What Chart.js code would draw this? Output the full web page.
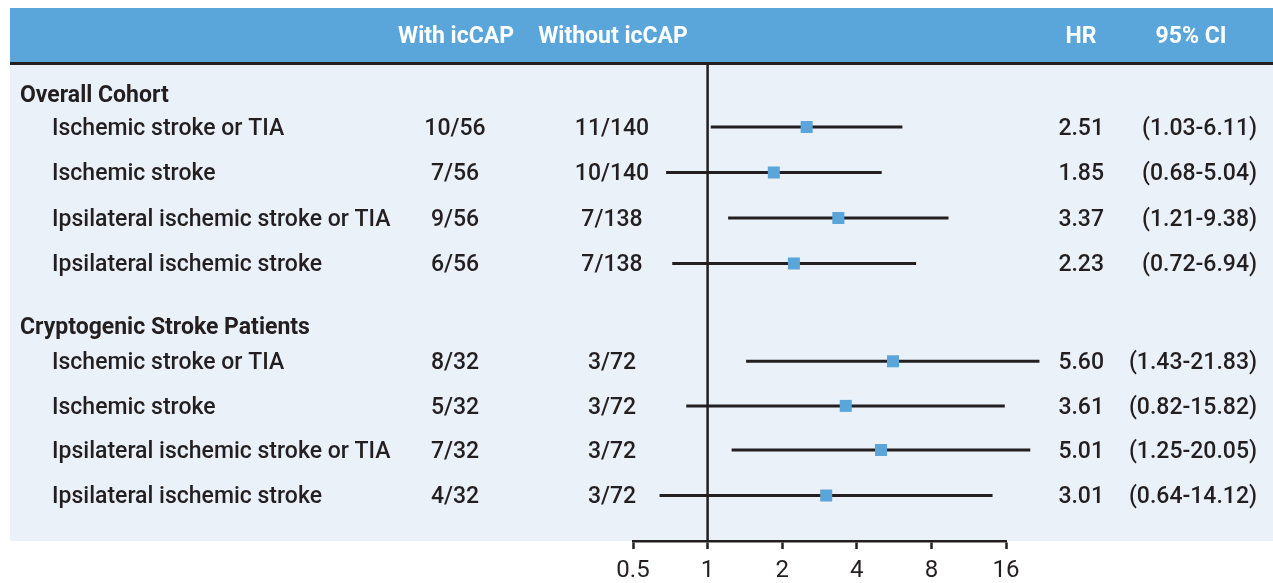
<!DOCTYPE html>
<html>
<head>
<meta charset="utf-8">
<script src="https://cdn.jsdelivr.net/npm/chart.js@4.4.1/dist/chart.umd.min.js"></script>
<style>
  html, body { margin: 0; padding: 0; background: #fff; }
  #wrap { width: 1273px; height: 583px; }
</style>
</head>
<body>
<div id="wrap"><canvas id="forest" width="1273" height="583"></canvas></div>
<script>
// data
const groups = ['Overall Cohort', 'Cryptogenic Stroke Patients'];
const outcomes = ['Ischemic stroke or TIA', 'Ischemic stroke', 'Ipsilateral ischemic stroke or TIA', 'Ipsilateral ischemic stroke'];
const withIcCAP = ['10/56', '7/56', '9/56', '6/56', '8/32', '5/32', '7/32', '4/32'];
const withoutIcCAP = ['11/140', '10/140', '7/138', '7/138', '3/72', '3/72', '3/72', '3/72'];
const hr = [2.51, 1.85, 3.37, 2.23, 5.60, 3.61, 5.01, 3.01];
const ciLow = [1.03, 0.68, 1.21, 0.72, 1.43, 0.82, 1.25, 0.64];
const ciHigh = [6.11, 5.04, 9.38, 6.94, 21.83, 15.82, 20.05, 14.12];
const xTicks = [0.5, 1, 2, 4, 8, 16];

// layout: vertical slots on the hidden y scale
const rowSlots = [1, 2, 3, 4, 6.15, 7.13, 8.1, 9.1];
const groupSlots = [0.28, 5.37];

const FONT = 'Roboto';
const INK = '#231f20';
const BLUE = '#5aa6da';
const PANEL = '#ebf1f9';
const TEXT_NUDGE = 2; // canvas 'middle' sits a bit high for caps

const ciSets = hr.map((v, i) => ({
  type: 'line',
  data: [{ x: ciLow[i], y: rowSlots[i] }, { x: ciHigh[i], y: rowSlots[i] }],
  borderColor: INK,
  borderWidth: 3,
  pointRadius: 0,
  clip: false,
  order: 2
}));

const hrSet = {
  type: 'scatter',
  data: hr.map((v, i) => ({ x: v, y: rowSlots[i] })),
  backgroundColor: BLUE,
  borderWidth: 0,
  pointStyle: 'rect',
  pointRadius: 8.5,
  clip: false,
  order: 1
};

const tablePlugin = {
  id: 'table',
  beforeDraw(chart) {
    const ctx = chart.ctx;
    const W = chart.width;
    ctx.save();
    ctx.fillStyle = '#fff';
    ctx.fillRect(0, 0, W, chart.height);
    ctx.fillStyle = BLUE;
    ctx.fillRect(10, 8, W - 10, 55);
    ctx.fillStyle = PANEL;
    ctx.fillRect(10, 65, W - 10, chart.chartArea.bottom - 65);
    ctx.fillStyle = INK;
    ctx.fillRect(10, 62, W - 10, 3);
    ctx.restore();
  },
  beforeDatasetsDraw(chart) {
    const ctx = chart.ctx;
    const x1 = chart.scales.x.getPixelForValue(1);
    ctx.save();
    ctx.strokeStyle = INK;
    ctx.lineWidth = 2.5;
    ctx.beginPath();
    ctx.moveTo(x1, chart.chartArea.top);
    ctx.lineTo(x1, chart.chartArea.bottom);
    ctx.stroke();
    ctx.restore();
  },
  afterDraw(chart) {
    const ctx = chart.ctx;
    const y = chart.scales.y;
    ctx.save();
    ctx.textBaseline = 'middle';

    // header
    ctx.fillStyle = '#fff';
    ctx.font = `bold 23px ${FONT}`;
    ctx.textAlign = 'center';
    ctx.fillText('With icCAP', 456, 37);
    ctx.fillText('Without icCAP', 613, 37);
    ctx.fillText('HR', 1081, 37);
    ctx.fillText('95% CI', 1191, 37);

    ctx.fillStyle = INK;
    ctx.textAlign = 'left';
    groups.forEach((g, i) => {
      ctx.font = `bold 23px ${FONT}`;
      ctx.fillText(g, 20, y.getPixelForValue(groupSlots[i]) + TEXT_NUDGE);
    });

    ctx.font = `500 23px ${FONT}`;
    hr.forEach((v, i) => {
      const py = y.getPixelForValue(rowSlots[i]) + TEXT_NUDGE;
      ctx.textAlign = 'left';
      ctx.fillText(outcomes[i % outcomes.length], 52, py);
      ctx.textAlign = 'center';
      ctx.fillText(withIcCAP[i], 455, py);
      ctx.fillText(withoutIcCAP[i], 612, py);
      ctx.textAlign = 'right';
      ctx.fillText(v.toFixed(2), 1104, py);
      ctx.fillText(`(${ciLow[i].toFixed(2)}-${ciHigh[i].toFixed(2)})`, 1257, py);
    });
    ctx.restore();
  }
};

new Chart(document.getElementById('forest'), {
  data: { datasets: [...ciSets, hrSet] },
  options: {
    responsive: false,
    animation: false,
    layout: { padding: { left: 633, right: 267, top: 65, bottom: 0 } },
    plugins: { legend: { display: false }, tooltip: { enabled: false } },
    scales: {
      x: {
        type: 'logarithmic',
        min: 0.5,
        max: 16,
        afterBuildTicks: (s) => { s.ticks = xTicks.map((v) => ({ value: v })); },
        afterFit: (s) => { s.height = 42; },
        grid: { drawOnChartArea: false, tickLength: 8, tickWidth: 2.5, tickColor: INK },
        border: { display: true, color: INK, width: 2.5 },
        ticks: {
          color: INK,
          font: { family: FONT, size: 24 },
          padding: 8,
          autoSkip: false,
          maxRotation: 0,
          callback: (v) => String(v)
        }
      },
      y: { type: 'linear', reverse: true, min: -0.363, max: 10.1, display: false }
    }
  },
  plugins: [tablePlugin]
});
</script>
</body>
</html>
